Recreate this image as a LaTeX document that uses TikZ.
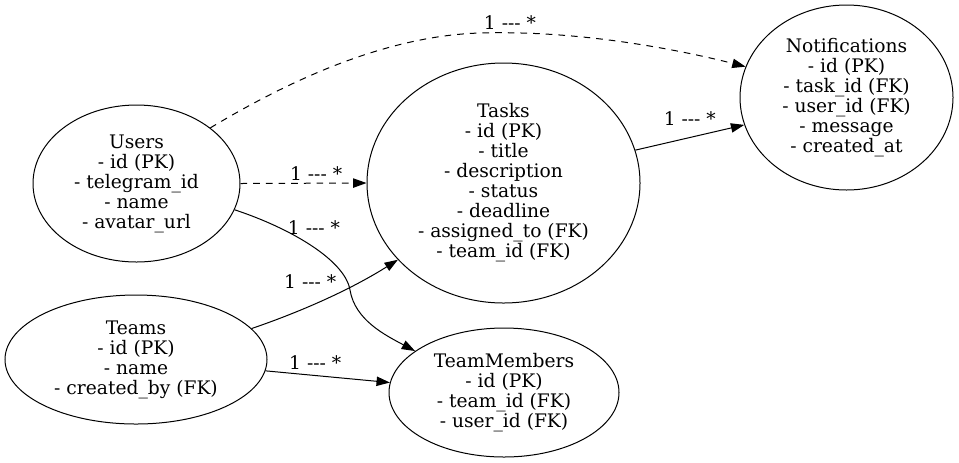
\documentclass[tikz,border=0pt]{standalone}
\usepackage{fontspec}
\setmainfont{DejaVu Serif}[Ligatures=TeXOff]
\usetikzlibrary{shapes.geometric,arrows.meta}
\begin{document}
\begin{tikzpicture}[>={Triangle[length=10pt,width=7pt]},x=0.75pt,y=-0.75pt,
		entity/.style={draw,line width=0.75pt,ellipse,inner sep=0pt,align=center,font=\fontsize{14pt}{15pt}\selectfont},
		lbl/.style={inner sep=1pt,font=\fontsize{14pt}{15pt}\selectfont},
		rel/.style={->,line width=0.75pt},
		reldash/.style={rel,dash pattern=on 5pt off 4.5pt}]
		\useasboundingbox (0,0) rectangle (959,462);
		\node[entity,minimum width=155.25pt,minimum height=117.75pt] (users) at (136.5,183.5) {Users\\- id (PK)\\- telegram\_id\\- name\\- avatar\_url};
		\node[entity,minimum width=204.75pt,minimum height=180pt] (tasks) at (503.5,183) {Tasks\\- id (PK)\\- title\\- description\\- status\\- deadline\\- assigned\_to (FK)\\- team\_id (FK)};
		\node[entity,minimum width=159.75pt,minimum height=138.75pt] (notif) at (846.5,97.5) {Notifications\\- id (PK)\\- task\_id (FK)\\- user\_id (FK)\\- message\\- created\_at};
		\node[entity,minimum width=196.5pt,minimum height=96.75pt] (teams) at (136,359.5) {Teams\\- id (PK)\\- name\\- created\_by (FK)};
		\node[entity,minimum width=172.5pt,minimum height=96.75pt] (members) at (504,392.5) {TeamMembers\\- id (PK)\\- team\_id (FK)\\- user\_id (FK)};
		% relations
		\draw[reldash] (users.east) -- node[lbl,pos=0.6,above=1pt] (l1) {1 --- *} (tasks.west);
		\draw[reldash] (users.37) .. controls (280,86) and (380,36) .. (480,33) .. controls (580,30) and (680,50) .. node[lbl,pos=0.1,above=1pt] (l2) {1 --- *} (notif.163);
		\draw[rel] (tasks.14) -- node[lbl,pos=0.5,above=8pt] (l3) {1 --- *} (notif.195);
		\draw[rel] (users.-15) .. controls (290,228) and (345,260) .. node[lbl,pos=0.45,above=4pt,xshift=7pt] (l4) {1 --- *} (350,290) .. controls (355,320) and (385,335) .. (members.155);
		\draw[rel] (teams.15) .. controls (300,312) and (350,290) .. node[lbl,pos=0.4,above=12pt] (l5) {1 --- *} (tasks.216);
		\draw[rel] (teams.-5) -- node[lbl,pos=0.4,above=3pt] (l6) {1 --- *} (members.175);
	\end{tikzpicture}
\end{document}
